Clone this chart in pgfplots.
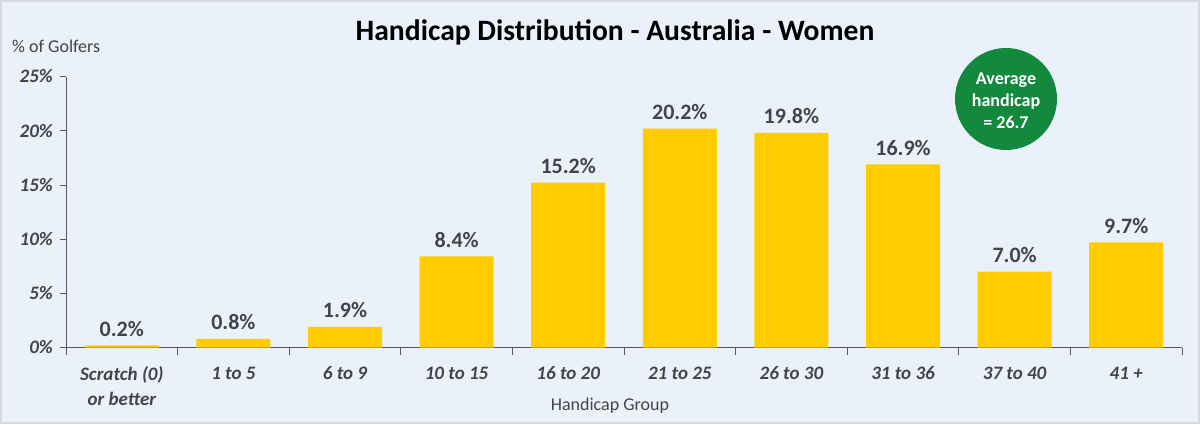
\documentclass[border=0pt]{standalone}
\usepackage{fontspec}
\setmainfont{Carlito}
\usepackage{pgfplots}
\pgfplotsset{compat=1.18}
\definecolor{bg}{HTML}{EBF1FA}
\definecolor{barc}{HTML}{FFCC00}
\definecolor{txt}{HTML}{3F4450}
\definecolor{grn}{HTML}{13893E}
\definecolor{axc}{HTML}{595959}
\definecolor{framec}{HTML}{D5DAE0}
\begin{document}
\begin{tikzpicture}[x=1pt,y=1pt]
\useasboundingbox (0,0) rectangle (1200,424);
\fill[bg] (0,0) rectangle (1200,424);
\draw[framec, line width=2pt] (1,1) rectangle (1199,423);
\begin{axis}[
  at={(66pt,76.5pt)}, anchor=south west,
  scale only axis, width=1116pt, height=271pt,
  xmin=-0.5, xmax=9.5, ymin=0, ymax=25,
  axis x line*=bottom, axis y line*=left,
  axis line style={axc, line width=0.8pt},
  /pgf/number format/assume math mode=true,
  xtick={0,...,9},
  xticklabels={{Scratch (0)\\or better},{1 to 5},{6 to 9},{10 to 15},{16 to 20},{21 to 25},{26 to 30},{31 to 36},{37 to 40},{41 +}},
  minor xtick={-0.5,0.5,...,9.5},
  ytick={0,5,...,25},
  yticklabels={0\%,5\%,10\%,15\%,20\%,25\%},
  tick align=outside,
  major tick length=6pt, minor tick length=7pt,
  tick style={axc, line width=0.8pt},
  major x tick style={draw=none},
  xticklabel style={font=\fontsize{19}{25}\selectfont\bfseries\itshape, text=txt, align=center, anchor=north, inner sep=0pt, yshift=-13pt},
  yticklabel style={font=\fontsize{19}{23}\selectfont\bfseries\itshape, text=txt, anchor=east, inner sep=0pt, xshift=-7pt},
  ybar, bar width=74pt, bar shift=0pt,
  nodes near coords={\pgfmathprintnumber[fixed,fixed zerofill,precision=1]{\pgfplotspointmeta}\%},
  every node near coord/.append style={font=\fontsize{22}{26}\selectfont\bfseries, text=txt, anchor=base, inner sep=0pt, yshift=9pt},
]
\addplot[fill=barc, draw=none] coordinates {(0,0.2) (1,0.8) (2,1.9) (3,8.4) (4,15.2) (5,20.2) (6,19.8) (7,16.9) (8,7.0) (9,9.7)};
\end{axis}
\node[anchor=base, font=\fontsize{29.6}{34}\selectfont\bfseries, text=black, inner sep=0pt] at (615,383) {Handicap Distribution - Australia - Women};
\node[anchor=base west, font=\fontsize{18}{22}\selectfont, text=txt, inner sep=0pt] at (12,371) {\% of Golfers};
\node[anchor=base, font=\fontsize{18}{22}\selectfont, text=txt, inner sep=0pt] at (610,14) {Handicap Group};
\fill[grn] (1006,325) circle (51);
\node[align=center, font=\fontsize{18}{22}\selectfont\bfseries, text=white, inner sep=0pt] at (1006,323) {Average\\handicap\\= 26.7};
\end{tikzpicture}
\end{document}
